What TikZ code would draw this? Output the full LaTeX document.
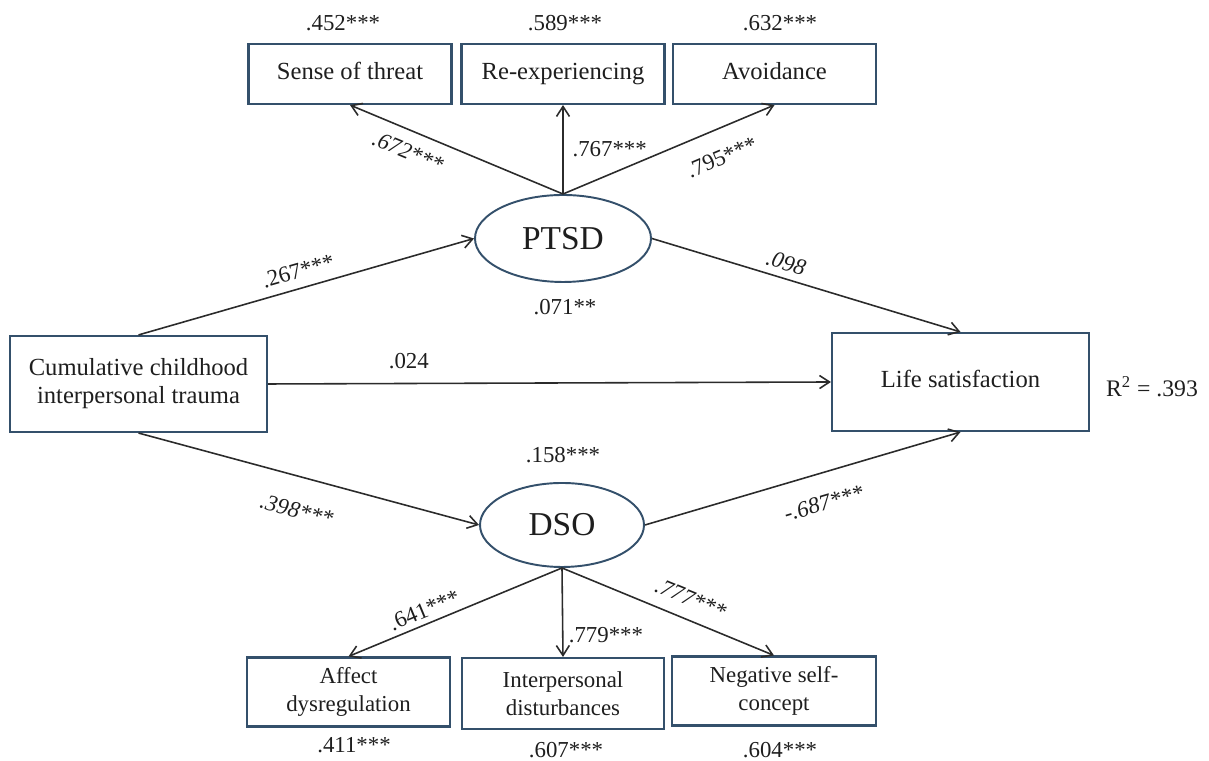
\documentclass[tikz,border=0pt]{standalone}
\usepackage{fontspec}
\setmainfont{Liberation Serif}
\usetikzlibrary{arrows.meta, shapes.geometric}
\definecolor{cframe}{HTML}{34506B}
\definecolor{cline}{HTML}{2B2B2B}
\definecolor{ctext}{HTML}{1E1E1E}
\tikzset{
  box/.style={draw=cframe, line width=1.2pt, minimum width=#1, minimum height=1.2cm, align=center, inner sep=2pt, text=ctext, font=\fontsize{14}{16}\selectfont},
  box/.default=4.06cm,
  oneline/.style={text height=1.45ex, text depth=0pt},
  latent/.style={ellipse, draw=cframe, line width=1.1pt, inner sep=0pt, text=ctext, font=\fontsize{19}{21}\selectfont},
  arrow/.style={-{Straight Barb[length=2mm, width=2.6mm]}, draw=cline, line width=0.9pt},
  backarrow/.style={{Straight Barb[length=2mm, width=2.6mm]}-, draw=cline, line width=0.9pt},
  coef/.style={text=ctext, inner sep=2pt, font=\fontsize{13}{15}\selectfont},
  icoef/.style={coef, font=\fontsize{13}{15}\selectfont\itshape},
}
\begin{document}
\begin{tikzpicture}
  \useasboundingbox (0,0) rectangle (24.18,15.22);
  % PTSD indicators
  \node[box, oneline] (threat) at (7.00,13.74) {Sense of threat};
  \node[box, oneline] (reexp) at (11.26,13.74) {Re-experiencing};
  \node[box, oneline] (avoid) at (15.49,13.74) {Avoidance};
  \node[coef] (r452) at (6.86,14.76) {.452***};
  \node[coef] (r589) at (11.30,14.76) {.589***};
  \node[coef] (r632) at (15.60,14.76) {.632***};
  % main path
  \node[box=5.14cm, minimum height=1.92cm] (trauma) at (2.77,7.54) {Cumulative childhood\\interpersonal trauma};
  \node[box=5.14cm, minimum height=1.96cm, oneline] (life) at (19.21,7.58) {Life satisfaction};
  \node[coef, font=\fontsize{13.5}{15}\selectfont] (rsq) at (23.04,7.48) {R\textsuperscript{2} = .393};
  \node[latent, minimum width=3.52cm, minimum height=1.74cm] (ptsd) at (11.26,10.45) {PTSD};
  \node[latent, minimum width=3.28cm, minimum height=1.68cm] (dso) at (11.24,4.72) {DSO};
  \node[coef] (r071) at (11.30,9.08) {.071**};
  \node[coef] (r158) at (11.26,6.12) {.158***};
  % DSO indicators
  \node[box, minimum height=1.38cm, font=\fontsize{13}{16}\selectfont] (affect) at (6.97,1.38) {Affect\\dysregulation};
  \node[box=4.04cm, minimum height=1.42cm, font=\fontsize{13}{16}\selectfont] (interp) at (11.26,1.35) {Interpersonal\\disturbances};
  \node[box=4.08cm, minimum height=1.38cm, font=\fontsize{13}{16}\selectfont] (negself) at (15.48,1.40) {Negative self-\\concept};
  \node[coef] (r411) at (7.08,0.32) {.411***};
  \node[coef] (r607) at (11.32,0.22) {.607***};
  \node[coef] (r604) at (15.60,0.22) {.604***};
  % loadings
  \draw[backarrow] (threat.south) -- node[icoef, sloped, below=5pt, pos=0.31] {.672***} (ptsd.north);
  \draw[arrow] (ptsd.north) -- node[coef, right=3pt, pos=0.5] {.767***} (reexp.south);
  \draw[arrow] (ptsd.north) -- node[coef, sloped, below=9pt, pos=0.7] {.795***} (avoid.south);
  \draw[backarrow] (affect.north) -- node[coef, sloped, above=1pt, pos=0.38] {.641***} (dso.south);
  \draw[arrow] (dso.south) -- node[coef, right=1pt, pos=0.75] {.779***} (interp.north);
  \draw[arrow] (dso.south) -- node[icoef, sloped, above=5pt, pos=0.57] {.777***} (negself.north);
  % structural paths
  \draw[arrow] (trauma.north) -- node[coef, sloped, above=3pt, pos=0.49] {.267***} (ptsd.west);
  \draw[arrow] (ptsd.east) -- node[icoef, sloped, above=2pt, pos=0.42] {.098} (life.north);
  \draw[arrow] (trauma.east) -- node[coef, above=6pt, pos=0.25] {.024} (life.west);
  \draw[arrow] (trauma.south) -- node[icoef, sloped, below=12pt, pos=0.49] {.398***} (dso.west);
  \draw[arrow] (dso.east) -- node[icoef, sloped, below=10pt, pos=0.54] {-.687***} (life.south);
\end{tikzpicture}
\end{document}
